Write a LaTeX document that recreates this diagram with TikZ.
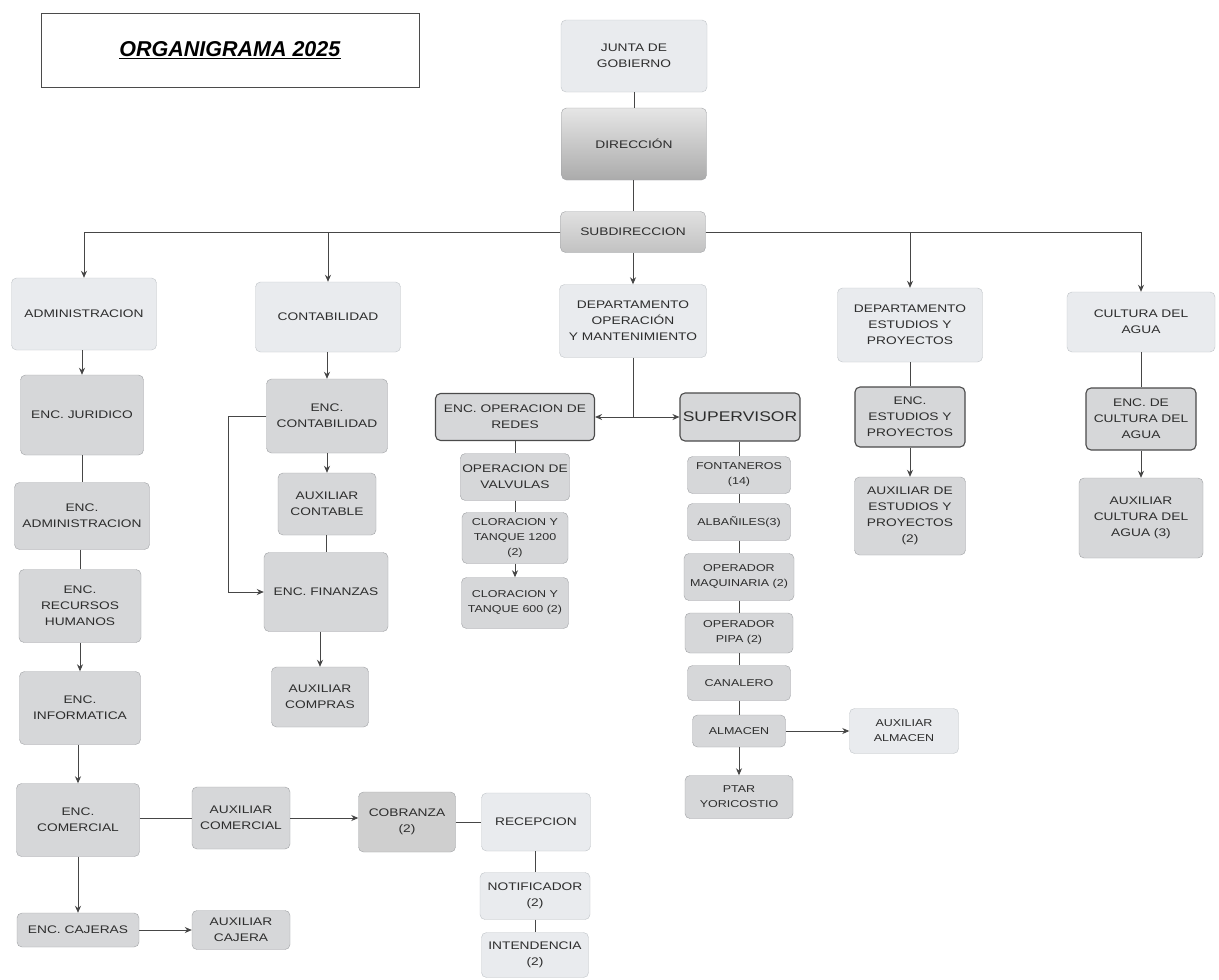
\documentclass[tikz,border=0pt]{standalone}
\usepackage{fontspec}
\setmainfont{Liberation Sans}[FakeStretch=1.25]
\newfontfamily\titlefont{Liberation Sans}
\usetikzlibrary{arrows.meta}
\definecolor{boxlight}{RGB}{233,235,238}
\definecolor{liteline}{RGB}{192,196,200}
\definecolor{boxmid}{RGB}{214,215,217}
\definecolor{midline}{RGB}{160,162,165}
\definecolor{darkline}{RGB}{75,75,75}
\definecolor{wire}{RGB}{70,70,70}
\definecolor{ink}{RGB}{45,45,45}
\tikzset{
    unit/.style={rectangle, rounded corners=5pt, align=center, text=ink, inner sep=2pt,
        font=\fontsize{11}{16}\selectfont},
    litebox/.style={unit, fill=boxlight, draw=liteline},
    midbox/.style={unit, fill=boxmid, draw=midline},
    darkbox/.style={unit, fill=boxmid, draw=darkline, line width=1.1pt},
    smalltext/.style={font=\fontsize{10}{15}\selectfont},
    wirecol/.style={draw=wire, line width=0.9pt}
}
\begin{document}
\begin{tikzpicture}[x=1pt, y=-1pt, >={Stealth[length=7pt,width=6pt]}]
            \path[fill=white] (0,0) rectangle (1219,980);
            \node[draw=darkline, line width=0.8pt, minimum width=378, minimum height=74] (title) at (230,50)
                {\titlefont\fontsize{21.5}{24}\selectfont\underline{\textbf{\textit{ORGANIGRAMA 2025}}}};
            \node[litebox, minimum width=146, minimum height=72] (junta) at (634,56) {JUNTA DE\\GOBIERNO};
            \node[unit, draw=midline, top color=black!10, bottom color=black!33, minimum width=145, minimum height=72] (direc) at (634,144) {DIRECCIÓN};
            \node[unit, draw=midline, top color=black!12, bottom color=black!24, minimum width=145, minimum height=41] (subdir) at (633,232) {SUBDIRECCION};
            \node[litebox, minimum width=145, minimum height=72] (admin) at (84,314) {ADMINISTRACION};
            \node[litebox, minimum width=145, minimum height=70] (contab) at (328,317) {CONTABILIDAD};
            \node[litebox, minimum width=147, minimum height=73] (depop) at (633,321) {DEPARTAMENTO\\OPERACIÓN\\Y MANTENIMIENTO};
            \node[litebox, minimum width=145, minimum height=74] (estud) at (910,325) {DEPARTAMENTO\\ESTUDIOS Y\\PROYECTOS};
            \node[litebox, minimum width=148, minimum height=60] (cultura) at (1141,322) {CULTURA DEL\\AGUA};
            \node[midbox, minimum width=123, minimum height=80] (jurid) at (82,415) {ENC. JURIDICO};
            \node[midbox, minimum width=135, minimum height=67] (encadm) at (82,516) {ENC.\\ADMINISTRACION};
            \node[midbox, minimum width=122, minimum height=73] (rrhh) at (80,606) {ENC.\\RECURSOS\\HUMANOS};
            \node[midbox, minimum width=121, minimum height=73] (inform) at (80,708) {ENC.\\INFORMATICA};
            \node[midbox, minimum width=123, minimum height=73] (comer) at (78,820) {ENC.\\COMERCIAL};
            \node[midbox, minimum width=122, minimum height=34] (cajeras) at (78,930) {ENC. CAJERAS};
            \node[midbox, minimum width=98, minimum height=39] (auxcaj) at (241,930) {AUXILIAR\\CAJERA};
            \node[midbox, minimum width=98, minimum height=62] (auxcom) at (241,818) {AUXILIAR\\COMERCIAL};
            \node[midbox, fill=black!19, minimum width=97, minimum height=60] (cobra) at (407,822) {COBRANZA\\(2)};
            \node[litebox, minimum width=109, minimum height=58] (recep) at (536,822) {RECEPCION};
            \node[litebox, minimum width=110, minimum height=47] (notif) at (535,896) {NOTIFICADOR\\(2)};
            \node[litebox, minimum width=107, minimum height=45] (intend) at (535,955) {INTENDENCIA\\(2)};
            \node[midbox, minimum width=121, minimum height=74] (enccont) at (327,416) {ENC.\\CONTABILIDAD};
            \node[midbox, minimum width=98, minimum height=62] (auxcont) at (327,504) {AUXILIAR\\CONTABLE};
            \node[midbox, minimum width=124, minimum height=79] (finan) at (326,592) {ENC. FINANZAS};
            \node[midbox, minimum width=97, minimum height=60] (compras) at (320,697) {AUXILIAR\\COMPRAS};
            \node[darkbox, minimum width=159, minimum height=47] (redes) at (515,417) {ENC. OPERACION DE\\REDES};
            \node[midbox, minimum width=106, minimum height=47] (valv) at (515,477) {OPERACION DE\\VALVULAS};
            \node[midbox, smalltext, minimum width=106, minimum height=51] (clor1) at (515,538) {CLORACION Y\\TANQUE 1200\\(2)};
            \node[midbox, smalltext, minimum width=107, minimum height=51] (clor2) at (515,603) {CLORACION Y\\TANQUE 600 (2)};
            \node[darkbox, font=\fontsize{14}{16}\selectfont, minimum width=120, minimum height=48] (superv) at (740,417) {SUPERVISOR};
            \node[midbox, smalltext, minimum width=103, minimum height=37] (fonta) at (739,475) {FONTANEROS\\(14)};
            \node[midbox, smalltext, minimum width=103, minimum height=37] (albas) at (739,522) {ALBAÑILES(3)};
            \node[midbox, smalltext, minimum width=110, minimum height=47] (maqui) at (739,577) {OPERADOR\\MAQUINARIA (2)};
            \node[midbox, smalltext, minimum width=108, minimum height=40] (pipa) at (739,633) {OPERADOR\\PIPA (2)};
            \node[midbox, smalltext, minimum width=103, minimum height=35] (canal) at (739,683) {CANALERO};
            \node[midbox, smalltext, minimum width=93, minimum height=32] (almac) at (739,731) {ALMACEN};
            \node[midbox, smalltext, minimum width=108, minimum height=43] (ptar) at (739,797) {PTAR\\YORICOSTIO};
            \node[litebox, smalltext, minimum width=109, minimum height=45] (auxalm) at (904,731) {AUXILIAR\\ALMACEN};
            \node[darkbox, minimum width=110, minimum height=60] (encest) at (910,417) {ENC.\\ESTUDIOS Y\\PROYECTOS};
            \node[midbox, minimum width=111, minimum height=78] (auxest) at (910,516) {AUXILIAR DE\\ESTUDIOS Y\\PROYECTOS\\(2)};
            \node[darkbox, minimum width=110, minimum height=62] (enccult) at (1141,419) {ENC. DE\\CULTURA DEL\\AGUA};
            \node[midbox, minimum width=124, minimum height=80] (auxcult) at (1141,518) {AUXILIAR\\CULTURA DEL\\AGUA (3)};
            \draw[wirecol] (junta) -- (direc);
            \draw[wirecol] (direc.south -| subdir.north) -- (subdir.north);
            \draw[wirecol, ->] (subdir.west) -| (admin.north);
            \draw[wirecol, ->] (subdir.west) -| (contab.north);
            \draw[wirecol, ->] (subdir.south) -- (depop.north);
            \draw[wirecol, ->] (subdir.east) -| (estud.north);
            \draw[wirecol, ->] (subdir.east) -| (cultura.north);
            \draw[wirecol, ->] (admin.south -| jurid.north) -- (jurid.north);
            \draw[wirecol] (jurid) -- (encadm);
            \draw[wirecol] (encadm.south -| rrhh.north) -- (rrhh.north);
            \draw[wirecol, ->] (rrhh) -- (inform);
            \draw[wirecol, ->] (inform.south -| comer.north) -- (comer.north);
            \draw[wirecol, ->] (comer) -- (cajeras);
            \draw[wirecol, ->] (cajeras) -- (auxcaj);
            \draw[wirecol] (comer.east |- auxcom.west) -- (auxcom.west);
            \draw[wirecol, ->] (auxcom.east) -- (auxcom.east -| cobra.west);
            \draw[wirecol] (cobra) -- (recep);
            \draw[wirecol] (recep.south -| notif.north) -- (notif.north);
            \draw[wirecol] (notif) -- (intend);
            \draw[wirecol, ->] (contab.south -| enccont.north) -- (enccont.north);
            \draw[wirecol, ->] (enccont) -- (auxcont);
            \draw[wirecol] (auxcont.south -| finan.north) -- (finan.north);
            \draw[wirecol, ->] (finan.south -| compras.north) -- (compras.north);
            \draw[wirecol, ->] (enccont.west) -- ++(-38,0) |- (finan.west);
            \coordinate (split) at (depop.south |- redes.east);
            \draw[wirecol] (depop.south) -- (split);
            \draw[wirecol, ->] (split) -- (redes.east);
            \draw[wirecol, ->] (split) -- (superv.west);
            \draw[wirecol] (redes) -- (valv);
            \draw[wirecol] (valv) -- (clor1);
            \draw[wirecol, ->] (clor1) -- (clor2);
            \draw[wirecol] (superv.south -| fonta.north) -- (fonta.north);
            \draw[wirecol] (fonta) -- (albas);
            \draw[wirecol] (albas) -- (maqui);
            \draw[wirecol] (maqui) -- (pipa);
            \draw[wirecol] (pipa) -- (canal);
            \draw[wirecol] (canal) -- (almac);
            \draw[wirecol, ->] (almac) -- (ptar);
            \draw[wirecol, ->] (almac) -- (auxalm);
            \draw[wirecol] (estud) -- (encest);
            \draw[wirecol, ->] (encest) -- (auxest);
            \draw[wirecol] (cultura) -- (enccult);
            \draw[wirecol, ->] (enccult) -- (auxcult);
        \end{tikzpicture}
\end{document}
